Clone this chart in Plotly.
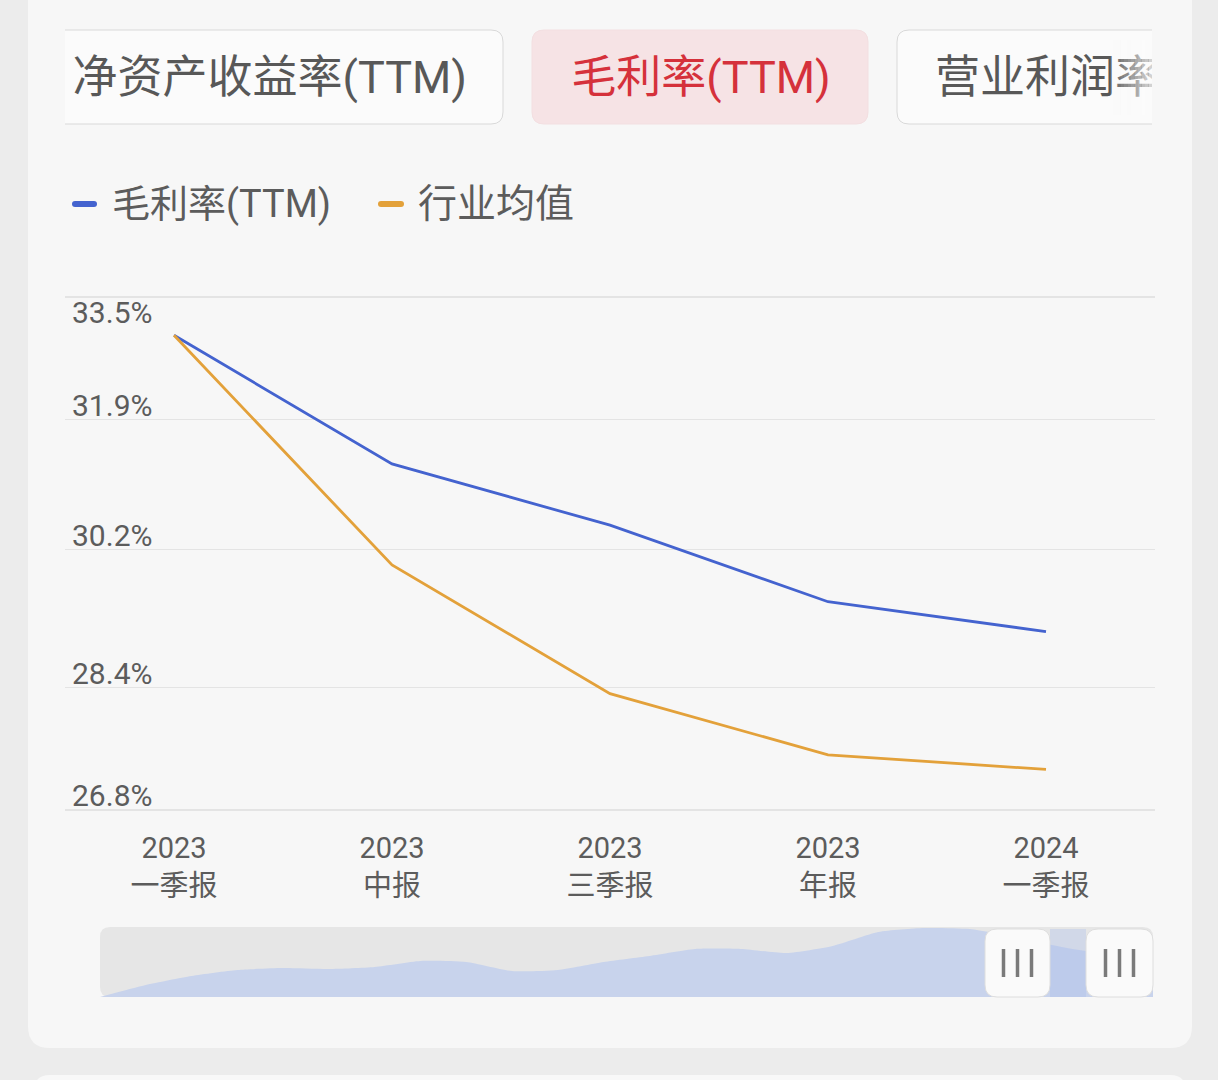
import plotly.graph_objects as go

W, H = 1218, 1080

# ---------------- data ----------------
categories = ["2023<br>一季报", "2023<br>中报", "2023<br>三季报", "2023<br>年报", "2024<br>一季报"]
gross_margin = [33.0, 31.32, 30.52, 29.52, 29.13]
industry_avg = [33.0, 30.0, 28.32, 27.52, 27.33]
y_ticks = [26.8, 28.4, 30.2, 31.9, 33.5]
y_tick_labels = ["26.8%", "28.4%", "30.2%", "31.9%", "33.5%"]
series_names = ["毛利率(TTM)", "行业均值"]
tab_labels = ["净资产收益率(TTM)", "毛利率(TTM)", "营业利润率"]
# overview silhouette in the zoom slider (relative heights)
overview = [0, 12, 21, 27, 29, 28, 30, 36, 35, 26, 27, 35, 41, 48, 48, 44, 51, 65, 69, 68, 60, 50, 43, 40]

BLUE = "#4463cf"
ORANGE = "#e3a13a"
TXT = "#5c5c5c"
CARD = "#f7f7f7"
FONT = "Roboto, 'Noto Sans CJK SC', sans-serif"


def X(px):
    return px / W


def Y(py):
    return 1 - py / H


def rrect(x0, y0, x1, y1, r):
    pts = [
        f"M {X(x0 + r)},{Y(y0)}",
        f"L {X(x1 - r)},{Y(y0)}",
        f"Q {X(x1)},{Y(y0)} {X(x1)},{Y(y0 + r)}",
        f"L {X(x1)},{Y(y1 - r)}",
        f"Q {X(x1)},{Y(y1)} {X(x1 - r)},{Y(y1)}",
        f"L {X(x0 + r)},{Y(y1)}",
        f"Q {X(x0)},{Y(y1)} {X(x0)},{Y(y1 - r)}",
        f"L {X(x0)},{Y(y0 + r)}",
        f"Q {X(x0)},{Y(y0)} {X(x0 + r)},{Y(y0)}",
        "Z",
    ]
    return " ".join(pts)


def pshape(x0, y0, x1, y1, r, fill, line=None, lw=0, layer="below"):
    return dict(type="path", xref="paper", yref="paper", path=rrect(x0, y0, x1, y1, r),
                fillcolor=fill, line=dict(color=line or fill, width=lw), layer=layer)


def rect(x0, y0, x1, y1, fill, layer="below", opacity=1.0):
    return dict(type="rect", xref="paper", yref="paper", x0=X(x0), x1=X(x1), y0=Y(y1), y1=Y(y0),
                fillcolor=fill, line=dict(width=0), layer=layer, opacity=opacity)


fig = go.Figure()

fig.add_trace(go.Scatter(x=categories, y=gross_margin, mode="lines", name=series_names[0],
                         line=dict(color=BLUE, width=2.8), xaxis="x", yaxis="y", cliponaxis=False))
fig.add_trace(go.Scatter(x=categories, y=industry_avg, mode="lines", name=series_names[1],
                         line=dict(color=ORANGE, width=2.8), xaxis="x", yaxis="y", cliponaxis=False))
fig.add_trace(go.Scatter(x=list(range(len(overview))), y=overview, mode="lines", fill="tozeroy",
                         line=dict(width=0, shape="spline", smoothing=0.6), fillcolor="#c8d3ec",
                         xaxis="x2", yaxis="y2", hoverinfo="skip"))

# tab labels as clipped text in the scrolling tab strip (x in strip pixels)
tab_text_x = [467, 701, 935]
tab_positions = ["middle left", "middle center", "middle right"]
tab_colors = ["#585858", "#d5313b", "#585858"]
for t, tx, tp, tc in zip(tab_labels, tab_text_x, tab_positions, tab_colors):
    fig.add_trace(go.Scatter(x=[tx], y=[0], mode="text", text=[t], textposition=tp,
                             textfont=dict(family=FONT, size=45, color=tc),
                             xaxis="x3", yaxis="y3", cliponaxis=True, hoverinfo="skip"))

shapes = []
# card backgrounds
shapes.append(pshape(28, -30, 1192, 1048, 22, CARD))
shapes.append(pshape(34, 1075, 1186, 1130, 16, "#f8f8f8"))
# tabs
shapes.append(pshape(40, 30, 503, 124, 12, "#fbfbfb", "#d9d9d9", 1))
shapes.append(pshape(532, 30, 868, 124, 12, "#f6e3e5", "#f3dfe1", 1))
shapes.append(pshape(897, 30, 1185, 124, 12, "#fbfbfb", "#d9d9d9", 1))
# legend dashes
shapes.append(pshape(72, 201, 97, 207, 3, BLUE, layer="above"))
shapes.append(pshape(378, 201, 404, 207, 3, ORANGE, layer="above"))
# slider background
shapes.append(pshape(100, 927, 1153, 997, 10, "#e6e6e6"))
# selected area between handles
shapes.append(rect(1050, 929, 1086, 997, "rgba(170,190,235,0.35)", layer="above"))
# handles
for hx0, hx1 in [(985, 1050), (1086, 1153)]:
    shapes.append(pshape(hx0, 929, hx1, 997, 12, "#fafafa", "#dedede", 1, layer="above"))
    cx = (hx0 + hx1) / 2
    for dx in (-14, 0, 14):
        shapes.append(dict(type="line", xref="paper", yref="paper", x0=X(cx + dx), x1=X(cx + dx),
                           y0=Y(949), y1=Y(977), line=dict(color="#7a7a7a", width=3.5), layer="above"))

# clip covers for tab row
shapes.append(rect(28, 20, 65, 134, CARD, layer="above"))
shapes.append(rect(1152, 20, 1192, 134, CARD, layer="above"))
# fade for the clipped third tab
n = 12
for i in range(n):
    x0 = 1110 + i * 3.5
    shapes.append(rect(x0, 40, x0 + 3.5, 115, "#fbfbfb", layer="above", opacity=0.75 * (i + 1) / n))

annotations = []
# legend texts
annotations.append(dict(text=series_names[0], x=X(110), y=Y(204), xref="paper", yref="paper",
                        xanchor="left", yanchor="middle", showarrow=False,
                        font=dict(family=FONT, size=38, color=TXT)))
annotations.append(dict(text=series_names[1], x=X(416), y=Y(204), xref="paper", yref="paper",
                        xanchor="left", yanchor="middle", showarrow=False,
                        font=dict(family=FONT, size=39, color=TXT)))
# y tick labels sit inside the plot next to their grid lines (top one below it)
for v, t in zip(y_ticks, y_tick_labels):
    shift = -15 if v == max(y_ticks) else 14
    annotations.append(dict(text=t, x=X(70), y=v, xref="paper", yref="y", xanchor="left",
                            yanchor="middle", yshift=shift, showarrow=False,
                            font=dict(family=FONT, size=30, color=TXT)))

fig.update_layout(
    width=W, height=H,
    margin=dict(l=0, r=0, t=0, b=0),
    paper_bgcolor="#ececec",
    plot_bgcolor="rgba(0,0,0,0)",
    showlegend=False,
    hovermode=False,
    shapes=shapes,
    annotations=annotations,
    xaxis=dict(domain=[X(65), X(1155)], type="category", range=[-0.5, 4.5],
               showgrid=False, zeroline=False, showline=False, ticks="",
               tickfont=dict(family=FONT, size=29, color=TXT), ticklabelstandoff=14),
    yaxis=dict(domain=[Y(813.8), Y(293.2)], range=[26.75, 33.55], tickvals=y_ticks,
               showticklabels=False, showgrid=True, gridcolor="#e4e4e4", gridwidth=1.2,
               zeroline=False, showline=False, ticks=""),
    xaxis2=dict(domain=[X(100), X(1153)], range=[0, len(overview) - 1], visible=False, anchor="y2"),
    yaxis2=dict(domain=[Y(997), Y(927)], range=[0, 70], visible=False, anchor="x2"),
    xaxis3=dict(domain=[X(65), X(1152)], range=[65, 1152], visible=False, anchor="y3"),
    yaxis3=dict(domain=[Y(124), Y(30)], range=[-0.9, 1.1], visible=False, anchor="x3"),
)

fig.write_html("out.html", post_script="document.body.style.margin='0';",
               config={"displayModeBar": False, "staticPlot": True})
